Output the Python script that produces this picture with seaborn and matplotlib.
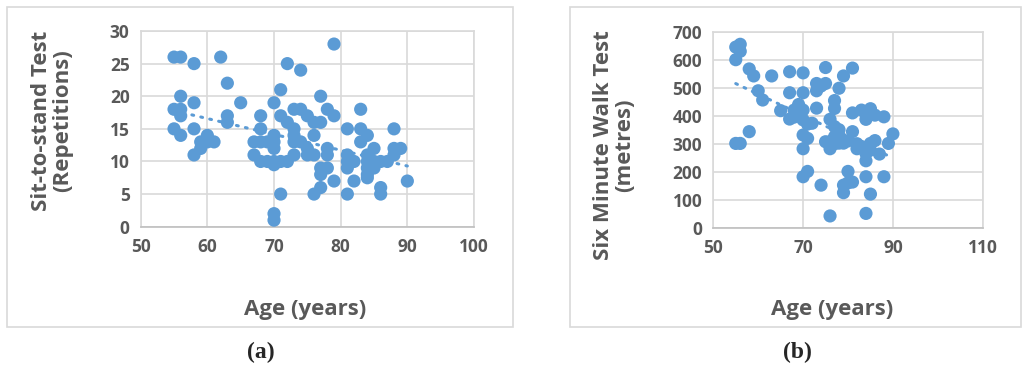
import numpy as np
import pandas as pd
import matplotlib
matplotlib.use("Agg")
import matplotlib.pyplot as plt
import seaborn as sns
from matplotlib.patches import Rectangle

# (a) sit-to-stand repetitions vs age
sts_age = [55, 56, 58, 62, 63, 65, 56, 58, 55, 56, 56, 55, 56, 58, 58, 59, 60, 59, 61, 60,
           63, 63, 70, 71, 72, 74, 79, 77, 68, 68, 67, 68, 69, 70, 70, 70, 67, 68, 69, 70,
           71, 72, 70, 71, 72, 73, 74, 73, 73, 73, 74, 73, 71, 70, 70, 75, 76, 77, 76, 75,
           75, 76, 77, 77, 78, 77, 76, 78, 79, 78, 78, 79, 81, 81, 81, 81, 81, 82, 82, 83,
           83, 83, 84, 85, 84, 84, 84, 84, 85, 85, 86, 87, 88, 86, 86, 88, 88, 89, 90, 84]
sts_reps = [26, 26, 25, 26, 22, 19, 20, 19, 18, 18, 17, 15, 14, 15, 11, 12, 14, 13, 13, 13,
            17, 16, 19, 21, 25, 24, 28, 20, 17, 15, 13, 13, 13, 13, 14, 12, 11, 10, 10, 9.5,
            10, 10, 10, 17, 16, 18, 18, 15, 14, 13, 13, 11, 5, 2, 1, 17, 16, 16, 14, 12,
            11, 11, 9, 8, 9, 6, 5, 18, 17, 12, 11, 7, 15, 11, 10, 9, 5, 10, 7, 18,
            15, 13, 14, 12, 11, 10, 9, 8, 10, 9, 10, 10, 11, 6, 5, 15, 12, 12, 7, 7.5]

# (b) six minute walk distance vs age
smw_age = [55, 56, 56, 55, 58, 59, 60, 61, 63, 65, 67, 67, 67, 55, 56, 58, 70, 70, 69, 68,
           70, 69, 70, 71, 68, 70, 71, 70, 70, 71, 72, 73, 73, 73, 74, 75, 75, 74, 76, 78,
           79, 81, 77, 77, 76, 77, 75, 76, 77, 78, 79, 78, 76, 77, 81, 83, 84, 85, 84, 86,
           88, 81, 82, 84, 84, 85, 86, 85, 87, 89, 90, 80, 79, 80, 81, 79, 84, 85, 88, 84,
           82, 83, 80, 78]
smw_dist = [645, 655, 630, 600, 567, 542, 489, 456, 542, 418, 557, 482, 388, 301, 301, 343, 553, 482, 440, 420,
            420, 400, 385, 370, 395, 331, 319, 282, 182, 201, 373, 427, 515, 489, 506, 515, 572, 152, 42, 498,
            542, 570, 454, 426, 387, 361, 307, 282, 325, 330, 302, 302, 307, 300, 410, 420, 408, 425, 387, 402,
            396, 343, 282, 265, 239, 301, 311, 277, 263, 301, 335, 201, 152, 160, 163, 125, 182, 120, 182, 51,
            300, 290, 310, 350]

df_a = pd.DataFrame({"age": sts_age, "reps": sts_reps})
df_b = pd.DataFrame({"age": smw_age, "dist": smw_dist})

sns.set_style("white")
plt.rcParams["font.family"] = ["Open Sans", "DejaVu Sans"]

blue = "#5B9BD5"
grey_txt = "#595959"
grid_c = "#D9D9D9"

fig = plt.figure(figsize=(10.24, 3.67), dpi=100)

# outer chart boxes
fig.patches.append(Rectangle((7 / 1024, 1 - 327 / 367), 506 / 1024, 320 / 367,
                             transform=fig.transFigure, fill=False, ec=grid_c, lw=1.2))
fig.patches.append(Rectangle((570 / 1024, 1 - 327 / 367), 451 / 1024, 320 / 367,
                             transform=fig.transFigure, fill=False, ec=grid_c, lw=1.2))

ax1 = fig.add_axes([140.7 / 1024, 1 - 226.7 / 367, 333.3 / 1024, 195.7 / 367])
ax2 = fig.add_axes([713.3 / 1024, 1 - 227.7 / 367, 269.4 / 1024, 196 / 367])


def style(ax, xlim, ylim, xticks, yticks):
    ax.set_xlim(*xlim)
    ax.set_ylim(*ylim)
    ax.set_xticks(xticks)
    ax.set_yticks(yticks)
    ax.grid(True, color=grid_c, lw=1.2)
    ax.set_axisbelow(True)
    for s in ax.spines.values():
        s.set_color(grid_c)
        s.set_linewidth(1.2)
    ax.spines["bottom"].set_color("#BFBFBF")
    ax.tick_params(length=0, labelsize=12.5, labelcolor=grey_txt, pad=8)
    for t in ax.get_xticklabels() + ax.get_yticklabels():
        t.set_fontweight("bold")
    ax.set_xlabel("")
    ax.set_ylabel("")


sns.scatterplot(data=df_a, x="age", y="reps", ax=ax1, color=blue, s=90, edgecolor="none", zorder=3)
sns.regplot(data=df_a, x="age", y="reps", ax=ax1, scatter=False, ci=None,
            line_kws=dict(color=blue, ls=(0, (0.6, 2.4)), lw=2.2, dash_capstyle="round"))
style(ax1, (50, 100), (0, 30), range(50, 101, 10), range(0, 31, 5))

sns.scatterplot(data=df_b, x="age", y="dist", ax=ax2, color=blue, s=90, edgecolor="none", zorder=3)
sns.regplot(data=df_b, x="age", y="dist", ax=ax2, scatter=False, ci=None,
            line_kws=dict(color=blue, ls=(0, (0.6, 2.4)), lw=2.2, dash_capstyle="round"))
style(ax2, (50, 110), (0, 700), range(50, 111, 20), range(0, 701, 100))

lab = dict(fontsize=16, fontweight="bold", color=grey_txt, ha="center", va="center")
fig.text(52 / 1024, 1 - 121 / 367, "Sit-to-stand Test\n(Repetitions)", rotation=90,
         linespacing=1.05, **lab)
fig.text(305 / 1024, 1 - 310 / 367, "Age (years)", **lab)
fig.text(614 / 1024, 1 - 145 / 367, "Six Minute Walk Test\n(metres)", rotation=90,
         linespacing=1.05, **lab)
fig.text(832 / 1024, 1 - 310 / 367, "Age (years)", **lab)

fig.text(261 / 1024, 1 - 352 / 367, "(a)", fontsize=17, fontweight="bold",
         family=["Liberation Serif", "DejaVu Serif"], ha="center", va="center")
fig.text(797 / 1024, 1 - 352 / 367, "(b)", fontsize=17, fontweight="bold",
         family=["Liberation Serif", "DejaVu Serif"], ha="center", va="center")

fig.savefig("out.png", dpi=100)
